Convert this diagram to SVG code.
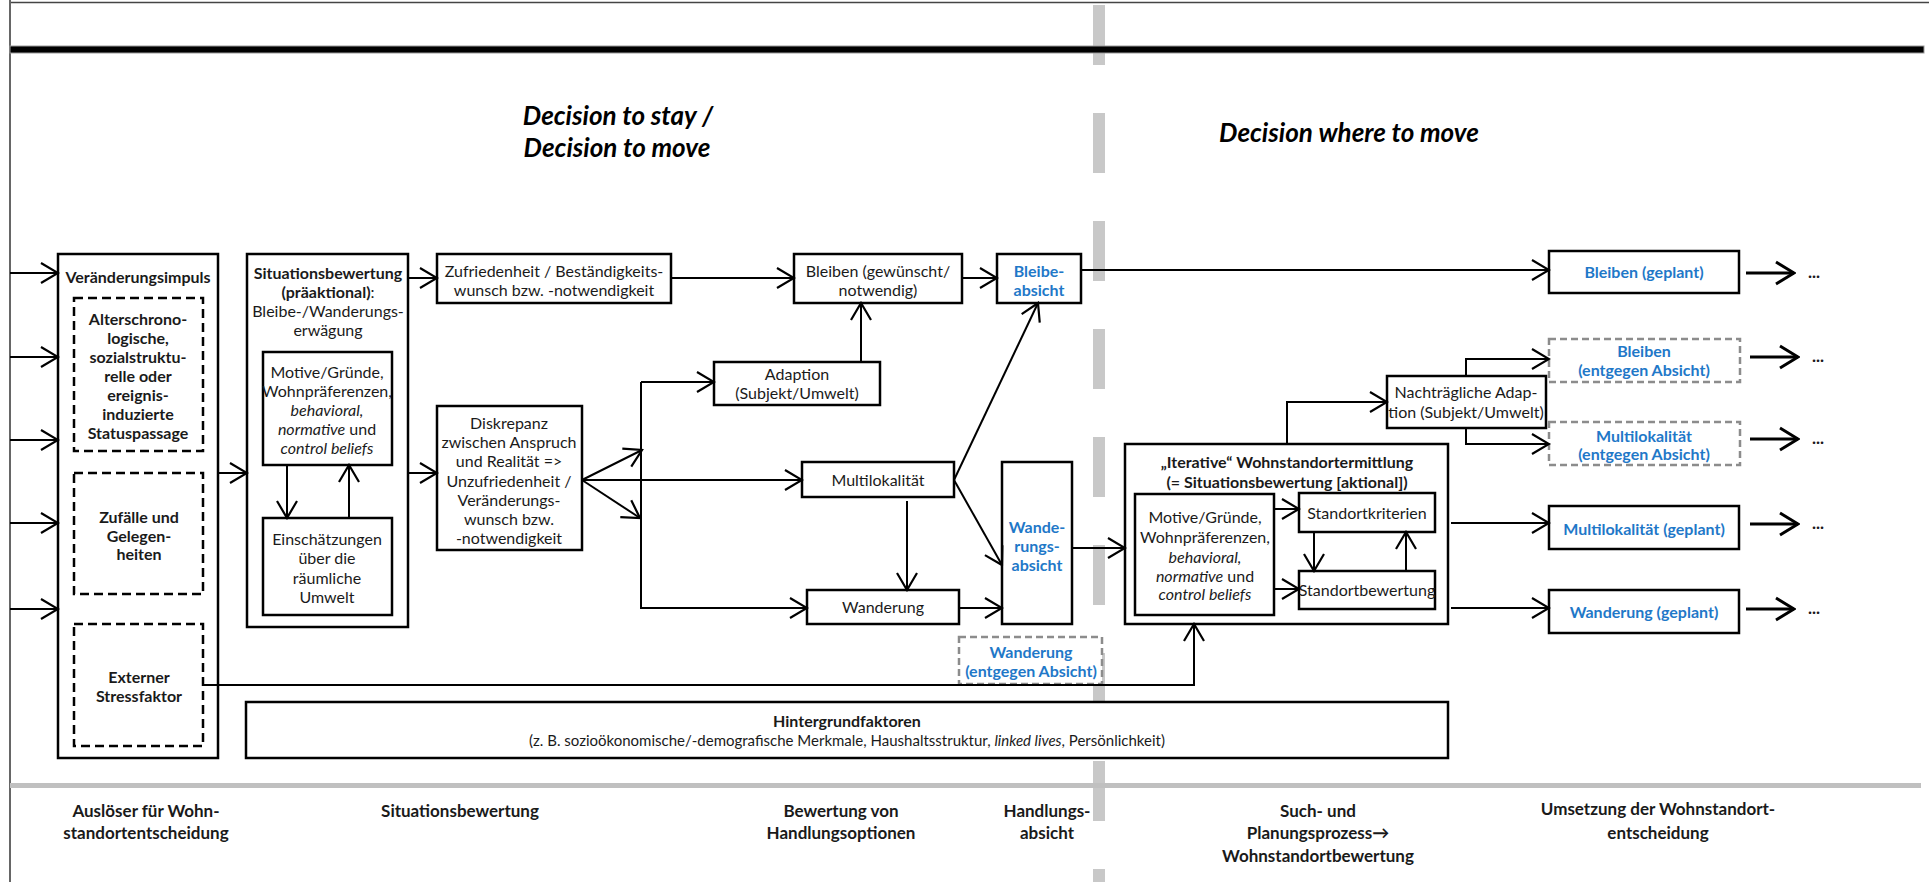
<svg xmlns="http://www.w3.org/2000/svg" width="1929" height="882" viewBox="0 0 1929 882">
<style>
.b{fill:#fff;stroke:#000;stroke-width:2.5}
.d{fill:#fff;stroke:#000;stroke-width:2.5;stroke-dasharray:9 5}
.g{fill:#fff;stroke:#8c8c8c;stroke-width:2.5;stroke-dasharray:7 4}
.t{font-family:Lato,'Liberation Sans',sans-serif;font-size:16px;fill:#1a1a1a;text-anchor:middle}
.tb{font-weight:bold}
.bl{fill:#1f78c8;font-weight:bold}
.it{font-style:italic}
.h{font-family:Lato,'Liberation Sans',sans-serif;font-size:26px;font-weight:bold;font-style:italic;fill:#000;text-anchor:middle}
.f{font-family:Lato,'Liberation Sans',sans-serif;font-size:17px;font-weight:bold;fill:#1a1a1a;text-anchor:middle}
.c{stroke:#000;stroke-width:2;fill:none;marker-end:url(#a)}
.o{stroke:#000;stroke-width:3;fill:none;marker-end:url(#a2)}
.dt{font-family:Lato,'Liberation Sans',sans-serif;font-size:17px;font-weight:bold;fill:#1a1a1a}
</style>
<defs>
<marker id="a" markerUnits="userSpaceOnUse" viewBox="-20 -12 22 24" refX="0" refY="0" markerWidth="22" markerHeight="24" orient="auto"><path d="M-17,-10 L0,0 L-17,10" fill="none" stroke="#000" stroke-width="2.2"/></marker>
<marker id="a2" markerUnits="userSpaceOnUse" viewBox="-22 -14 24 28" refX="0" refY="0" markerWidth="24" markerHeight="28" orient="auto"><path d="M-18,-11 L0,0 L-18,11" fill="none" stroke="#000" stroke-width="3"/></marker>
</defs>
<rect width="1929" height="882" fill="#fff"/>
<g id="frame">
<line x1="1099" y1="5" x2="1099" y2="882" stroke="#c8c8c8" stroke-width="12" stroke-dasharray="60 48"/>
<line x1="9" y1="2.5" x2="1929" y2="2.5" stroke="#444" stroke-width="1.5"/>
<line x1="10" y1="0" x2="10" y2="882" stroke="#666" stroke-width="2"/>
<rect x="10" y="46" width="1914" height="7" fill="#000" stroke="#999" stroke-width="1"/>
<rect x="10" y="783" width="1911" height="5" fill="#c0c0c0"/>
</g>
<g id="titles">
<text class="h" x="618" y="125">Decision to stay /</text>
<text class="h" x="617" y="157">Decision to move</text>
<text class="h" x="1349" y="142">Decision where to move</text>
</g>
<g id="n-veraenderung">
<rect class="b" x="58" y="254" width="160" height="504"/>
<text class="t tb" x="138" y="283">Veränderungsimpuls</text>
</g>
<g id="n-alter">
<rect class="d" x="74" y="298" width="129" height="153"/>
<text class="t tb" x="138" y="325">Alterschrono-</text>
<text class="t tb" x="138" y="344">logische,</text>
<text class="t tb" x="138" y="363">sozialstruktu-</text>
<text class="t tb" x="138" y="382">relle oder</text>
<text class="t tb" x="138" y="401">ereignis-</text>
<text class="t tb" x="138" y="420">induzierte</text>
<text class="t tb" x="138" y="439">Statuspassage</text>
</g>
<g id="n-zufaelle">
<rect class="d" x="74" y="473" width="129" height="121"/>
<text class="t tb" x="139" y="523">Zufälle und</text>
<text class="t tb" x="139" y="542">Gelegen-</text>
<text class="t tb" x="139" y="560">heiten</text>
</g>
<g id="n-stress">
<rect class="d" x="74" y="624" width="129" height="122"/>
<text class="t tb" x="139" y="683">Externer</text>
<text class="t tb" x="139" y="702">Stressfaktor</text>
</g>
<g id="n-situation">
<rect class="b" x="247" y="254" width="161" height="373"/>
<text class="t tb" x="328" y="279">Situationsbewertung</text>
<text class="t" x="328" y="298"><tspan class="tb">(präaktional)</tspan>:</text>
<text class="t" x="328" y="317">Bleibe-/Wanderungs-</text>
<text class="t" x="328" y="336">erwägung</text>
</g>
<g id="n-motive1">
<rect class="b" x="263" y="352" width="129" height="113"/>
<text class="t" x="327" y="378">Motive/Gründe,</text>
<text class="t" x="327" y="397">Wohnpräferenzen,</text>
<text class="t it" x="327" y="416">behavioral,</text>
<text class="t" x="327" y="435"><tspan class="it">normative</tspan> und</text>
<text class="t it" x="327" y="454">control beliefs</text>
</g>
<g id="n-einschaetz">
<rect class="b" x="263" y="518" width="129" height="97"/>
<text class="t" x="327" y="545">Einschätzungen</text>
<text class="t" x="327" y="564">über die</text>
<text class="t" x="327" y="584">räumliche</text>
<text class="t" x="327" y="603">Umwelt</text>
</g>
<g id="n-zufrieden">
<rect class="b" x="437" y="254" width="234" height="49"/>
<text class="t" x="554" y="277">Zufriedenheit / Beständigkeits-</text>
<text class="t" x="554" y="296">wunsch bzw. -notwendigkeit</text>
</g>
<g id="n-bleiben">
<rect class="b" x="794" y="254" width="168" height="49"/>
<text class="t" x="878" y="277">Bleiben (gewünscht/</text>
<text class="t" x="878" y="296">notwendig)</text>
</g>
<g id="n-bleibeabsicht">
<rect class="b" x="997" y="254" width="84" height="49"/>
<text class="t bl" x="1039" y="277">Bleibe-</text>
<text class="t bl" x="1039" y="296">absicht</text>
</g>
<g id="n-adaption">
<rect class="b" x="714" y="362" width="166" height="43"/>
<text class="t" x="797" y="380">Adaption</text>
<text class="t" x="797" y="399">(Subjekt/Umwelt)</text>
</g>
<g id="n-diskrepanz">
<rect class="b" x="437" y="406" width="145" height="144"/>
<text class="t" x="509" y="429">Diskrepanz</text>
<text class="t" x="509" y="448">zwischen Anspruch</text>
<text class="t" x="509" y="467">und Realität =&gt;</text>
<text class="t" x="509" y="487">Unzufriedenheit /</text>
<text class="t" x="509" y="506">Veränderungs-</text>
<text class="t" x="509" y="525">wunsch bzw.</text>
<text class="t" x="509" y="544">-notwendigkeit</text>
</g>
<g id="n-multilok">
<rect class="b" x="802" y="462" width="152" height="35"/>
<text class="t" x="878" y="486">Multilokalität</text>
</g>
<g id="n-wanderung">
<rect class="b" x="807" y="590" width="152" height="34"/>
<text class="t" x="883" y="613">Wanderung</text>
</g>
<g id="n-wanderungsabsicht">
<rect class="b" x="1002" y="462" width="70" height="162"/>
<text class="t bl" x="1037" y="533">Wande-</text>
<text class="t bl" x="1037" y="552">rungs-</text>
<text class="t bl" x="1037" y="571">absicht</text>
</g>
<g id="n-wanderung-entgegen">
<rect class="g" x="959" y="637" width="143" height="47"/>
<text class="t bl" x="1031" y="658">Wanderung</text>
<text class="t bl" x="1031" y="677">(entgegen Absicht)</text>
</g>
<g id="n-iterative">
<rect class="b" x="1125" y="444" width="323" height="180"/>
<text class="t tb" x="1287" y="468">„Iterative“ Wohnstandortermittlung</text>
<text class="t tb" x="1287" y="488">(= Situationsbewertung [aktional])</text>
</g>
<g id="n-motive2">
<rect class="b" x="1135" y="494" width="139" height="121"/>
<text class="t" x="1205" y="523">Motive/Gründe,</text>
<text class="t" x="1205" y="543">Wohnpräferenzen,</text>
<text class="t it" x="1205" y="563">behavioral,</text>
<text class="t" x="1205" y="582"><tspan class="it">normative</tspan> und</text>
<text class="t it" x="1205" y="600">control beliefs</text>
</g>
<g id="n-kriterien">
<rect class="b" x="1299" y="493" width="136" height="39"/>
<text class="t" x="1367" y="519">Standortkriterien</text>
</g>
<g id="n-bewertung">
<rect class="b" x="1299" y="571" width="136" height="38"/>
<text class="t" x="1367" y="596">Standortbewertung</text>
</g>
<g id="n-nachtraeglich">
<rect class="b" x="1387" y="376" width="159" height="52"/>
<text class="t" x="1466" y="398">Nachträgliche Adap-</text>
<text class="t" x="1466" y="418">tion (Subjekt/Umwelt)</text>
</g>
<g id="n-bleiben-geplant">
<rect class="b" x="1549" y="251" width="190" height="42"/>
<text class="t bl" x="1644" y="278">Bleiben (geplant)</text>
</g>
<g id="n-bleiben-entgegen">
<rect class="g" x="1549" y="339" width="191" height="43"/>
<text class="t bl" x="1644" y="357">Bleiben</text>
<text class="t bl" x="1644" y="376">(entgegen Absicht)</text>
</g>
<g id="n-multi-entgegen">
<rect class="g" x="1549" y="422" width="191" height="43"/>
<text class="t bl" x="1644" y="442">Multilokalität</text>
<text class="t bl" x="1644" y="460">(entgegen Absicht)</text>
</g>
<g id="n-multi-geplant">
<rect class="b" x="1549" y="506" width="190" height="43"/>
<text class="t bl" x="1644" y="535">Multilokalität (geplant)</text>
</g>
<g id="n-wanderung-geplant">
<rect class="b" x="1549" y="590" width="190" height="43"/>
<text class="t bl" x="1644" y="618">Wanderung (geplant)</text>
</g>
<g id="dots">
<text class="dt" x="1808" y="278">...</text>
<text class="dt" x="1812" y="362">...</text>
<text class="dt" x="1812" y="444">...</text>
<text class="dt" x="1812" y="529">...</text>
<text class="dt" x="1808" y="614">...</text>
</g>
<g id="n-hintergrund">
<rect class="b" x="246" y="702" width="1202" height="56"/>
<text class="t tb" x="847" y="727">Hintergrundfaktoren</text>
<text class="t" x="847" y="746" style="font-size:15px">(z. B. sozioökonomische/-demografische Merkmale, Haushaltsstruktur, <tspan class="it">linked lives</tspan>, Persönlichkeit)</text>
</g>
<g id="footer">
<text class="f" x="146" y="817">Auslöser für Wohn-</text>
<text class="f" x="146" y="839">standortentscheidung</text>
<text class="f" x="460" y="817">Situationsbewertung</text>
<text class="f" x="841" y="817">Bewertung von</text>
<text class="f" x="841" y="839">Handlungsoptionen</text>
<text class="f" x="1047" y="817">Handlungs-</text>
<text class="f" x="1047" y="839">absicht</text>
<text class="f" x="1318" y="817">Such- und</text>
<text class="f" x="1318" y="839">Planungsprozess→</text>
<text class="f" x="1318" y="862">Wohnstandortbewertung</text>
<text class="f" x="1658" y="815">Umsetzung der Wohnstandort-</text>
<text class="f" x="1658" y="839">entscheidung</text>
</g>
<g id="connectors">
<line class="c" x1="10" y1="273" x2="58" y2="273"/>
<line class="c" x1="10" y1="357" x2="58" y2="357"/>
<line class="c" x1="10" y1="440" x2="58" y2="440"/>
<line class="c" x1="10" y1="523" x2="58" y2="523"/>
<line class="c" x1="10" y1="609" x2="58" y2="609"/>
<line class="c" x1="218" y1="473" x2="247" y2="473"/>
<line class="c" x1="408" y1="278" x2="437" y2="278"/>
<line class="c" x1="408" y1="473" x2="437" y2="473"/>
<line class="c" x1="287" y1="465" x2="287" y2="518"/>
<line class="c" x1="349" y1="518" x2="349" y2="465"/>
<line class="c" x1="671" y1="278" x2="794" y2="278"/>
<line class="c" x1="962" y1="278" x2="997" y2="278"/>
<line class="c" x1="1081" y1="270" x2="1549" y2="270"/>
<line class="c" x1="861" y1="362" x2="861" y2="303"/>
<line class="c" x1="582" y1="480" x2="642" y2="450"/>
<line class="c" x1="582" y1="480" x2="802" y2="480"/>
<line class="c" x1="582" y1="480" x2="640" y2="518"/>
<polyline class="c" points="641,382 641,608 807,608"/>
<line class="c" x1="641" y1="382" x2="714" y2="382"/>
<line class="c" x1="907" y1="501" x2="907" y2="590"/>
<line class="c" x1="954" y1="480" x2="1038" y2="303"/>
<line class="c" x1="954" y1="480" x2="1002" y2="565"/>
<line class="c" x1="959" y1="608" x2="1002" y2="608"/>
<line class="c" x1="1072" y1="548" x2="1125" y2="548"/>
<polyline class="c" points="204,685 1194,685 1194,624"/>
<polyline class="c" points="1287,444 1287,402 1387,402"/>
<polyline class="c" points="1466,376 1466,359 1549,359"/>
<polyline class="c" points="1466,428 1466,444 1549,444"/>
<line class="c" x1="1274" y1="509" x2="1299" y2="509"/>
<line class="c" x1="1274" y1="589" x2="1299" y2="589"/>
<line class="c" x1="1314" y1="532" x2="1314" y2="571"/>
<line class="c" x1="1406" y1="571" x2="1406" y2="532"/>
<line class="c" x1="1451" y1="523" x2="1549" y2="523"/>
<line class="c" x1="1451" y1="608" x2="1549" y2="608"/>
<line class="o" x1="1746" y1="273" x2="1794" y2="273"/>
<line class="o" x1="1750" y1="357" x2="1798" y2="357"/>
<line class="o" x1="1750" y1="439" x2="1798" y2="439"/>
<line class="o" x1="1750" y1="524" x2="1798" y2="524"/>
<line class="o" x1="1746" y1="609" x2="1794" y2="609"/>
</g>
</svg>
